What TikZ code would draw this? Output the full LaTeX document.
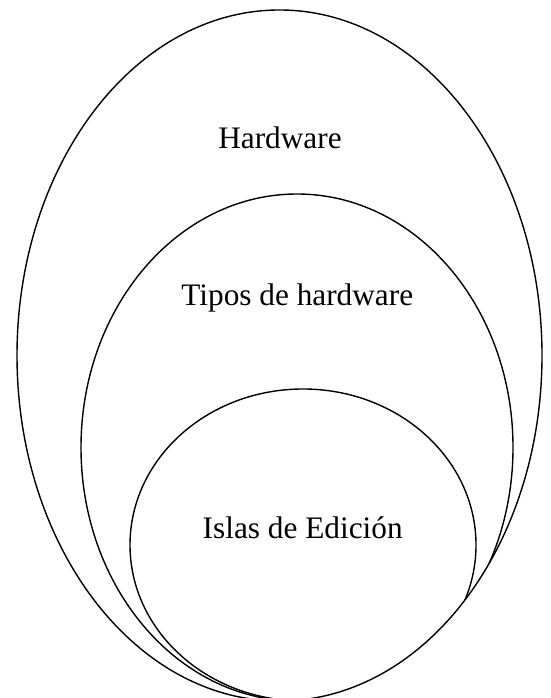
\documentclass[tikz,border=0pt]{standalone}
\usepackage{fontspec}
\setmainfont{Liberation Serif}
\tikzset{
  ring/.style={draw=black, line width=1.4pt},
  lbl/.style={anchor=base, inner sep=0pt, font=\fontsize{31.3}{36}\selectfont}
}
\begin{document}
\begin{tikzpicture}[x=1pt,y=1pt]
  \useasboundingbox (0,0) rectangle (550,698);
  \clip (0,0) rectangle (550,698);
  % outer ellipse: centre (279.5, 698-355.5)
  \draw[ring] (279.5,342.5) ellipse [x radius=262.5, y radius=345.5];
  \begin{scope}
    \clip (279.5,342.5) ellipse [x radius=262.5, y radius=345.5];
    \draw[ring] (297,250.5) ellipse [x radius=216, y radius=253.5];
    \draw[ring] (303,153) ellipse [x radius=173, y radius=156];
  \end{scope}
  \node[lbl] (hw) at (280,549.7) {Hardware};
  \node[lbl] (tipos) at (297.3,392) {Tipos de hardware};
  \node[lbl] (islas) at (302.7,159.7) {Islas de Edición};
\end{tikzpicture}
\end{document}
